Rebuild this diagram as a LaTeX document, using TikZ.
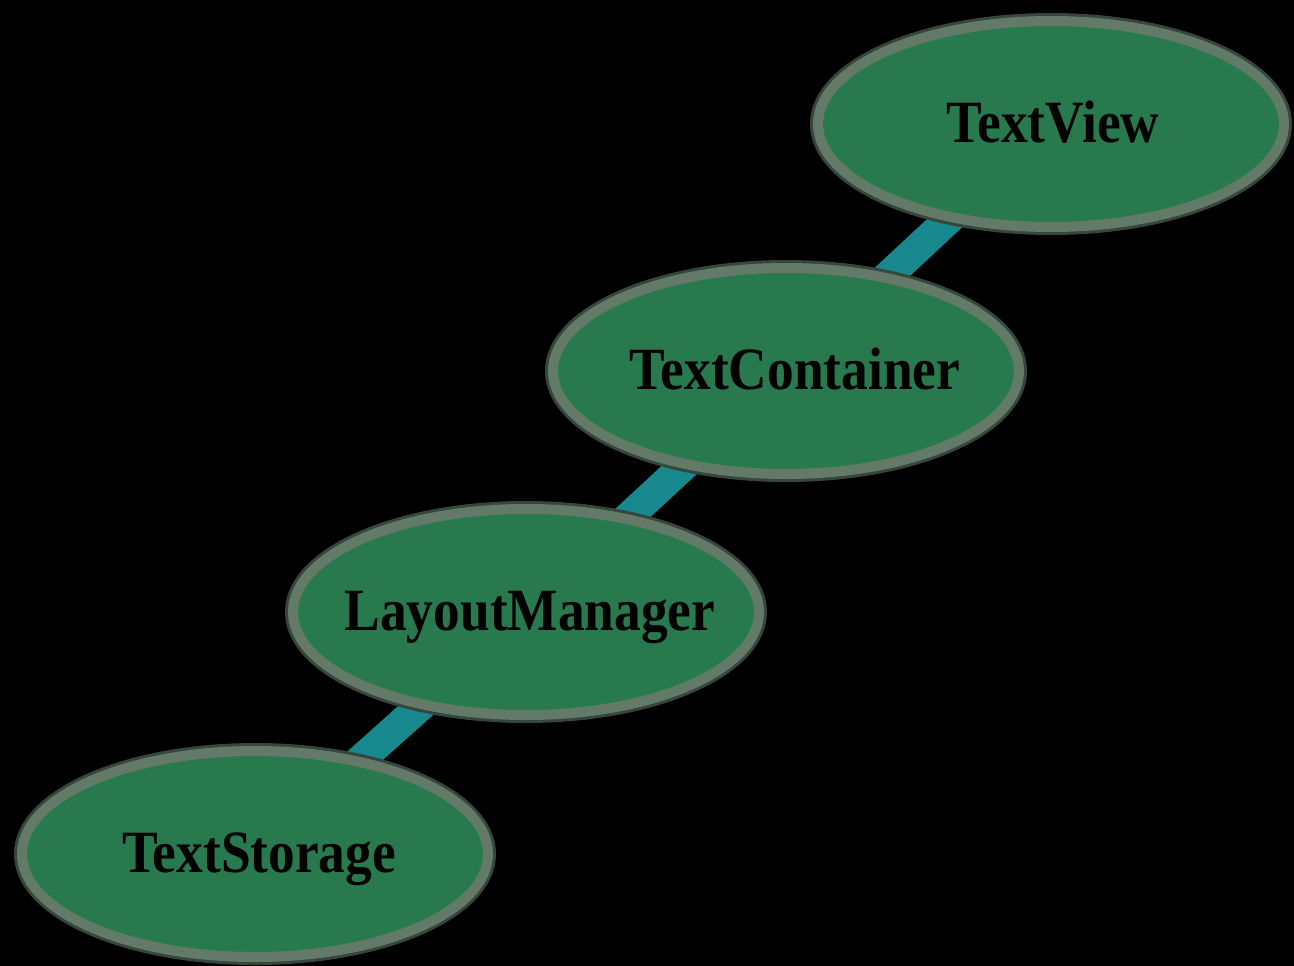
\documentclass[tikz,border=0pt]{standalone}
\usepackage{fontspec}
\newfontfamily\lblfont{Liberation Serif}[FakeStretch=0.89]
\usetikzlibrary{shapes.geometric}
\pgfdeclarelayer{bg}
\pgfsetlayers{bg,main}
\definecolor{nodefill}{RGB}{40,122,78}
\definecolor{nodeborder}{RGB}{100,122,104}
\definecolor{halo}{RGB}{55,70,60}
\definecolor{linkteal}{RGB}{22,136,142}
\tikzset{
  classnode/.style={ellipse, draw=nodeborder, fill=nodefill, line width=10pt,
    minimum width=466pt, minimum height=206pt, inner sep=0pt,
    text height=36pt, text depth=0pt,
    font=\lblfont\bfseries\fontsize{60}{66}\selectfont, text=black},
  halo/.style={ellipse, draw=halo, line width=16pt,
    minimum width=466pt, minimum height=206pt, inner sep=0pt},
  link/.style={draw=linkteal, line width=30pt}
}
\newcommand{\lbltxt}[2]{\makebox[0pt][c]{\hspace*{#1}#2}}
\begin{document}
\begin{tikzpicture}[x=1pt,y=-1pt]
\begin{pgfonlayer}{bg}
\fill[black] (0,0) rectangle (1294,966);
\end{pgfonlayer}
\useasboundingbox (0,0) rectangle (1294,966);
% halos
\node[halo] at (1051,124) {};
\node[halo] at (786,371) {};
\node[halo] at (526,612) {};
\node[halo] at (255,854) {};
% nodes
\node[classnode] (tv) at (1051,124) {\lbltxt{4pt}{TextView}};
\node[classnode] (tc) at (786,371) {\lbltxt{18pt}{TextContainer}};
\node[classnode] (lm) at (526,612) {\lbltxt{8pt}{LayoutManager}};
\node[classnode] (ts) at (255,854) {\lbltxt{8pt}{TextStorage}};
\begin{pgfonlayer}{bg}
\draw[link] (tv.center) -- (tc.center);
\draw[link] (tc.center) -- (lm.center);
\draw[link] (lm.center) -- (ts.center);
\end{pgfonlayer}
\end{tikzpicture}
\end{document}
